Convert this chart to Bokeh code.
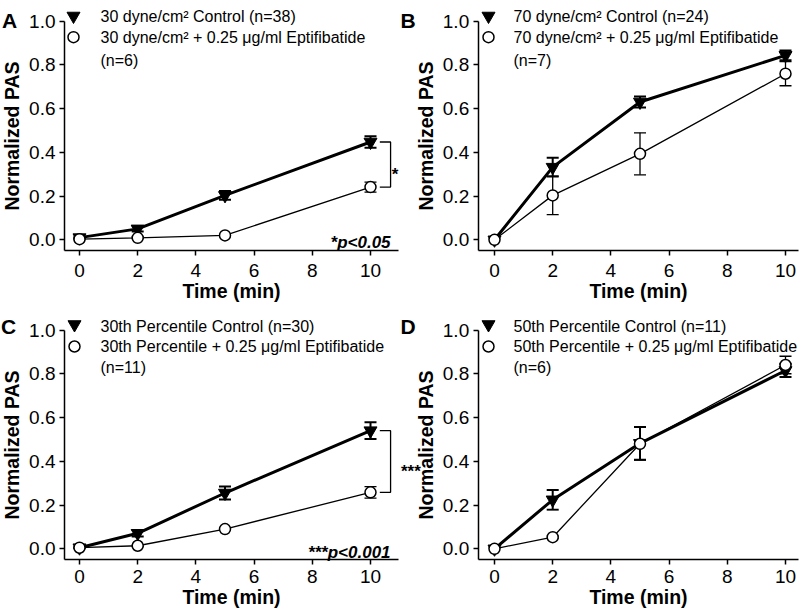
from bokeh.plotting import figure
from bokeh.models import (Range1d, FixedTicker, Label, Whisker, ColumnDataSource,
                          TeeHead, PrintfTickFormatter)
from bokeh.layouts import column, row
from bokeh.embed import file_html
from bokeh.resources import INLINE

FONT = "Liberation Sans"

# ---------------- data ----------------
time_min = [0, 2, 5, 10]
x_ticks = [0, 2, 4, 6, 8, 10]
y_ticks = [0.0, 0.2, 0.4, 0.6, 0.8, 1.0]

a_control = [0.010, 0.050, 0.203, 0.447]
a_control_err = [0.004, 0.012, 0.020, 0.026]
a_eptif = [0.003, 0.009, 0.020, 0.241]
a_eptif_err = [0.003, 0.004, 0.005, 0.023]

b_control = [0.000, 0.332, 0.630, 0.843]
b_control_err = [0.000, 0.043, 0.025, 0.022]
b_eptif = [0.000, 0.203, 0.393, 0.759]
b_eptif_err = [0.000, 0.088, 0.096, 0.055]

c_control = [0.005, 0.071, 0.255, 0.540]
c_control_err = [0.003, 0.015, 0.030, 0.038]
c_eptif = [0.005, 0.014, 0.090, 0.258]
c_eptif_err = [0.003, 0.004, 0.006, 0.026]

d_control = [0.000, 0.224, 0.482, 0.815]
d_control_err = [0.000, 0.045, 0.075, 0.030]
d_eptif = [0.000, 0.053, 0.480, 0.840]
d_eptif_err = [0.000, 0.005, 0.075, 0.040]

a_labels = ["30 dyne/cm² Control (n=38)", "30 dyne/cm² + 0.25 μg/ml Eptifibatide", "(n=6)"]
b_labels = ["70 dyne/cm² Control (n=24)", "70 dyne/cm² + 0.25 μg/ml Eptifibatide", "(n=7)"]
c_labels = ["30th Percentile Control (n=30)", "30th Percentile + 0.25 μg/ml Eptifibatide", "(n=11)"]
d_labels = ["50th Percentile Control (n=11)", "50th Percentile + 0.25 μg/ml Eptifibatide", "(n=6)"]

PXX = 29.1    # pixels per minute
PXY = 218.8   # pixels per unit PAS


class Panel:
    """One panel; the frame covers the whole canvas, axes are pinned with fixed_location."""

    def __init__(self, cl, ct, cw, ch, x0px, y0px, yaxis_px, xaxis_py,
                 xbound_end, tick_standoff):
        self.cl, self.ct = cl, ct
        self.x0px, self.y0px = x0px, y0px
        xr = Range1d((cl - x0px) / PXX, (cl + cw - x0px) / PXX)
        yr = Range1d((y0px - (ct + ch)) / PXY, (y0px - ct) / PXY)
        p = figure(width=cw, height=ch, x_range=xr, y_range=yr,
                   output_backend="svg", toolbar_location=None, min_border=0,
                   background_fill_color="white", border_fill_color="white")
        p.outline_line_color = None
        p.grid.visible = False
        xa, ya = p.xaxis[0], p.yaxis[0]
        ya_loc = self.u(yaxis_px)
        xa_loc = self.v(xaxis_py)
        ya.fixed_location = ya_loc
        xa.fixed_location = xa_loc
        xa.ticker = FixedTicker(ticks=x_ticks)
        ya.ticker = FixedTicker(ticks=y_ticks)
        ya.formatter = PrintfTickFormatter(format="%.1f")
        xa.axis_label = "Time (min)"
        ya.axis_label = "Normalized PAS"
        for ax in (xa, ya):
            ax.axis_line_width = 1.5
            ax.axis_line_color = "black"
            ax.major_tick_line_width = 1.5
            ax.major_tick_line_color = "black"
            ax.major_tick_out = 5
            ax.major_tick_in = 0
            ax.minor_tick_line_color = None
            ax.major_label_text_font = FONT
            ax.major_label_text_font_size = "19px"
            ax.major_label_text_color = "black"
            ax.axis_label_text_font = FONT
            ax.axis_label_text_font_size = "19.5px"
            ax.axis_label_text_font_style = "bold"
            ax.axis_label_text_color = "black"
        ya.major_label_standoff = 4
        ya.axis_label_standoff = 3
        xa.major_label_standoff = tick_standoff
        xa.axis_label_standoff = 0
        ya.bounds = (xa_loc, 1.0)
        xa.bounds = (ya_loc, xbound_end)
        self.p = p

    # reference-pixel position -> data position
    def u(self, px):
        return (px - self.x0px) / PXX

    def v(self, py):
        return (self.y0px - py) / PXY


def draw_series(pn, ctrl, ctrl_err, ept, ept_err):
    p = pn.p
    for vals, errs, lw in ((ctrl, ctrl_err, 2.0), (ept, ept_err, 1.3)):
        xs = [t for t, e in zip(time_min, errs) if e > 0]
        up = [y + e for y, e in zip(vals, errs) if e > 0]
        lo = [y - e for y, e in zip(vals, errs) if e > 0]
        src = ColumnDataSource(dict(x=xs, upper=up, lower=lo))
        w = Whisker(source=src, base="x", upper="upper", lower="lower",
                    dimension="height", line_width=lw, line_color="black",
                    upper_head=TeeHead(size=12, line_width=lw, line_color="black"),
                    lower_head=TeeHead(size=12, line_width=lw, line_color="black"))
        p.add_layout(w)
    p.line(time_min, ctrl, line_width=3, line_color="black")
    p.scatter(time_min, ctrl, marker="inverted_triangle", size=13,
              fill_color="black", line_color="black")
    p.line(time_min, ept, line_width=1.3, line_color="black")
    p.scatter(time_min, ept, marker="circle", size=11,
              fill_color="white", line_color="black", line_width=1.5)


def draw_legend(pn, labels, mx, ty, cy, tx, ys):
    p = pn.p
    p.scatter([pn.u(mx)], [pn.v(ty)], marker="inverted_triangle", size=13,
              fill_color="black", line_color="black")
    p.scatter([pn.u(mx)], [pn.v(cy)], marker="circle", size=11,
              fill_color="white", line_color="black", line_width=1.5)
    for txt, yy in zip(labels, ys):
        p.add_layout(Label(x=pn.u(tx), y=pn.v(yy), text=txt, text_font=FONT,
                           text_font_size="16px", text_baseline="middle",
                           text_align="left", text_color="black"))


def panel_letter(pn, letter, px, py):
    pn.p.add_layout(Label(x=pn.u(px), y=pn.v(py), text=letter,
                          text_font=FONT, text_font_size="21px",
                          text_font_style="bold", text_baseline="alphabetic",
                          text_align="left", text_color="black"))


def stars(pn, text, x, top, bottom):
    pn.p.add_layout(Label(x=x, y=(top + bottom) / 2 - 9.7 / PXY,
                          text=text, text_font=FONT, text_font_size="17px",
                          text_font_style="bold", text_baseline="alphabetic",
                          text_align="left", text_color="black"))


def bracket(pn, top, bottom, pval_text, pval_py):
    p = pn.p
    x1 = time_min[-1] + 0.32
    x2 = time_min[-1] + 0.69
    p.line([x1, x2, x2, x1], [top, top, bottom, bottom], line_width=1.3,
           line_color="black")
    p.add_layout(Label(x=x2, y=pn.v(pval_py), text=pval_text, text_font=FONT,
                       text_font_size="17px", text_font_style="bold italic",
                       text_baseline="alphabetic", text_align="right",
                       text_color="black"))
    return x2


# ---------------- panels ----------------
pa = Panel(0, 0, 400, 306, 79, 239.3, 64, 250, 10.96, 8)
pb = Panel(400, 0, 400, 306, 494, 239.3, 477.7, 250, 10.45, 8)
pc = Panel(0, 306, 400, 310, 79, 548.3, 64, 559.3, 10.96, 5)
pd = Panel(400, 306, 400, 310, 494, 548.3, 477.7, 559.3, 10.45, 5)

draw_series(pa, a_control, a_control_err, a_eptif, a_eptif_err)
draw_series(pb, b_control, b_control_err, b_eptif, b_eptif_err)
draw_series(pc, c_control, c_control_err, c_eptif, c_eptif_err)
draw_series(pd, d_control, d_control_err, d_eptif, d_eptif_err)

draw_legend(pa, a_labels, 73, 15.5, 36.7, 100, [16, 37, 59.5])
draw_legend(pb, b_labels, 488, 15.5, 36.7, 513, [16, 37, 59.5])
draw_legend(pc, c_labels, 74, 324, 346, 100, [326, 346, 366.5])
draw_legend(pd, d_labels, 488, 324, 346, 513, [326, 346, 366.5])

panel_letter(pa, "A", 1.5, 20)
panel_letter(pb, "B", 400, 19.5)
panel_letter(pc, "C", 0.5, 326)
panel_letter(pd, "D", 400, 326)

xa2 = bracket(pa, a_control[-1], a_eptif[-1], "*p<0.05", 241.5)
stars(pa, "*", xa2 + 0.04, a_control[-1], a_eptif[-1])
xc2 = bracket(pc, c_control[-1], c_eptif[-1], "***p<0.001", 551.7)
# the "***" of panel C's bracket spills over the panel border; drawn on D's canvas
stars(pd, "***", pd.u(400.5), c_control[-1], c_eptif[-1])

layout = column(row(pa.p, pb.p), row(pc.p, pd.p))

with open("out.html", "w") as f:
    f.write(file_html(layout, INLINE))
